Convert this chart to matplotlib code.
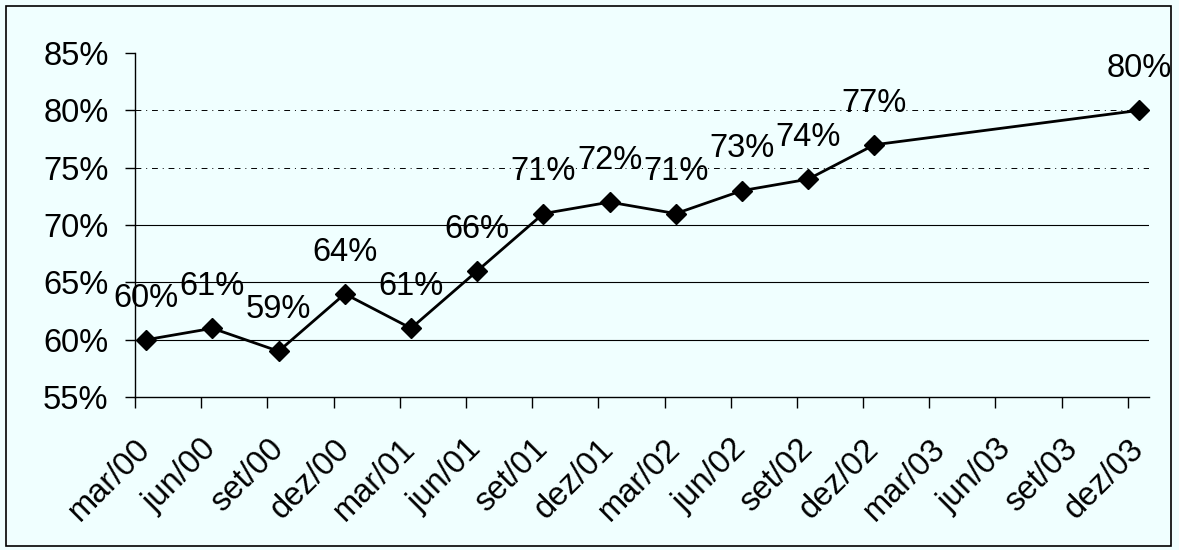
import numpy as np
import matplotlib
matplotlib.use("Agg")
import matplotlib.pyplot as plt
from matplotlib.patches import Rectangle

plt.rcParams["font.family"] = ["Liberation Sans", "DejaVu Sans"]

# quarters shown on the x axis
quarters = ["mar/00", "jun/00", "set/00", "dez/00",
            "mar/01", "jun/01", "set/01", "dez/01",
            "mar/02", "jun/02", "set/02", "dez/02",
            "mar/03", "jun/03", "set/03", "dez/03"]

# quarters that have a value, and the value (%)
measured = ["mar/00", "jun/00", "set/00", "dez/00",
            "mar/01", "jun/01", "set/01", "dez/01",
            "mar/02", "jun/02", "set/02", "dez/02",
            "dez/03"]
values = [60, 61, 59, 64, 61, 66, 71, 72, 71, 73, 74, 77, 80]

y_ticks = [55, 60, 65, 70, 75, 80, 85]

BG = "#f0ffff"
FS = 23.5

fig = plt.figure(figsize=(11.79, 5.5), dpi=100, facecolor=BG)
ax = fig.add_axes([0.1145, 0.278, 0.8601, 0.6256])
ax.set_facecolor(BG)

# frame around the whole chart
fig.patches.append(Rectangle((6 / 1179, 4 / 550), 1165 / 1179, 540 / 550,
                             transform=fig.transFigure, fill=False,
                             edgecolor="black", linewidth=1.2))

# points sit a bit to the right of the quarter tick
offset = 0.17
xs = np.array([quarters.index(q) for q in measured]) + offset

# gridlines (55 is the axis, 85 has none)
for v in y_ticks[1:-1]:
    if v >= 75:
        ax.axhline(v, color="black", linewidth=0.7,
                   linestyle=(0, (6, 5, 1, 5)), zorder=1)
    else:
        ax.axhline(v, color="black", linewidth=0.8, zorder=1)

ax.plot(xs, values, color="black", linewidth=2.0, marker="D",
        markersize=10, zorder=3)

for x, v in zip(xs, values):
    ax.annotate("{}%".format(v), (x, v), xytext=(0, 30),
                textcoords="offset points", ha="center", va="center",
                fontsize=FS, zorder=4)

ax.set_xlim(0, 15.32)
ax.set_ylim(55, 85)
ax.set_yticks(y_ticks)
ax.set_yticklabels(["{}%".format(v) for v in y_ticks], fontsize=FS)
ax.set_xticks(range(len(quarters)))
ax.set_xticklabels(quarters, fontsize=FS, rotation=45, ha="right",
                   rotation_mode="anchor")

for side in ("top", "right"):
    ax.spines[side].set_visible(False)
ax.spines["left"].set_linewidth(1.0)
ax.spines["bottom"].set_linewidth(1.0)
ax.tick_params(axis="y", direction="out", length=7, width=1.0, pad=12)
ax.tick_params(axis="x", direction="out", length=8, width=1.0, pad=18)

fig.savefig("out.png", dpi=100, facecolor=BG)
